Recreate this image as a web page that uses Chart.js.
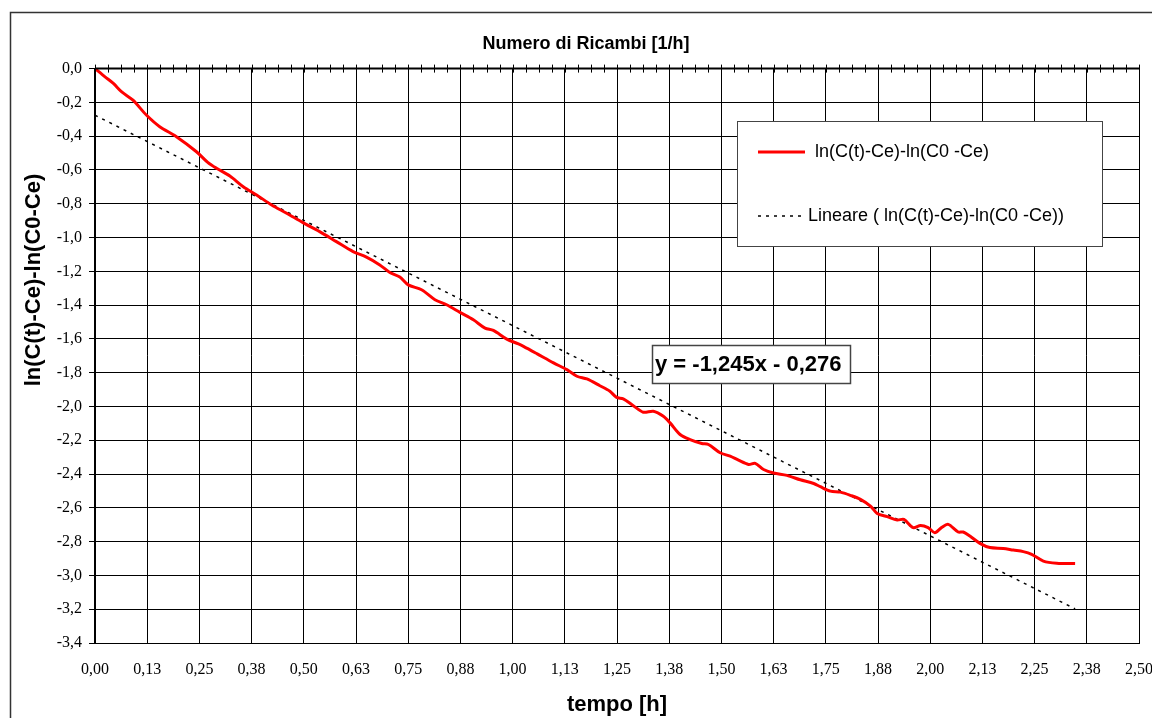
<!DOCTYPE html>
<html>
<head>
<meta charset="utf-8">
<script src="https://cdn.jsdelivr.net/npm/chart.js@4"></script>
<style>
  body { margin: 0; background: #fff; }
</style>
</head>
<body>
<canvas id="ricambi" width="1152" height="718"></canvas>
<script>
// tempo [h] and measured ln(C(t)-Ce)-ln(C0-Ce)
const timeH = [0, 0.024, 0.044, 0.064, 0.091, 0.123, 0.155, 0.195, 0.243, 0.27, 0.291, 0.323, 0.355, 0.387, 0.423, 0.459, 0.498, 0.538, 0.578, 0.618, 0.650, 0.682, 0.706, 0.730, 0.750, 0.782, 0.814, 0.842, 0.874, 0.906, 0.934, 0.954, 0.986, 1.014, 1.026, 1.058, 1.098, 1.130, 1.154, 1.178, 1.209, 1.233, 1.249, 1.265, 1.289, 1.313, 1.337, 1.361, 1.377, 1.401, 1.425, 1.453, 1.469, 1.497, 1.521, 1.541, 1.565, 1.581, 1.601, 1.625, 1.657, 1.689, 1.721, 1.737, 1.761, 1.785, 1.809, 1.833, 1.857, 1.873, 1.897, 1.921, 1.937, 1.959, 1.977, 1.995, 2.011, 2.027, 2.043, 2.067, 2.079, 2.095, 2.119, 2.143, 2.175, 2.199, 2.223, 2.243, 2.271, 2.303, 2.347];
const lnRatio = [0, -0.049, -0.088, -0.138, -0.187, -0.275, -0.344, -0.403, -0.492, -0.555, -0.59, -0.636, -0.699, -0.748, -0.807, -0.856, -0.912, -0.965, -1.024, -1.083, -1.116, -1.162, -1.207, -1.234, -1.280, -1.309, -1.368, -1.398, -1.443, -1.487, -1.536, -1.550, -1.601, -1.630, -1.644, -1.687, -1.742, -1.782, -1.821, -1.837, -1.877, -1.910, -1.946, -1.955, -1.995, -2.034, -2.028, -2.058, -2.097, -2.166, -2.196, -2.219, -2.225, -2.274, -2.294, -2.318, -2.343, -2.337, -2.373, -2.394, -2.408, -2.434, -2.456, -2.475, -2.501, -2.507, -2.526, -2.550, -2.590, -2.633, -2.652, -2.672, -2.668, -2.717, -2.704, -2.717, -2.747, -2.717, -2.698, -2.743, -2.743, -2.767, -2.810, -2.835, -2.840, -2.850, -2.859, -2.875, -2.915, -2.928, -2.930];

// linear trend end points
const trendT = [0, 2.347];
const trendLn = [-0.276, -3.198];

const xTickLabels = ['0,00', '0,13', '0,25', '0,38', '0,50', '0,63', '0,75', '0,88', '1,00', '1,13', '1,25', '1,38', '1,50', '1,63', '1,75', '1,88', '2,00', '2,13', '2,25', '2,38', '2,50'];
const yTickLabels = ['0,0', '-0,2', '-0,4', '-0,6', '-0,8', '-1,0', '-1,2', '-1,4', '-1,6', '-1,8', '-2,0', '-2,2', '-2,4', '-2,6', '-2,8', '-3,0', '-3,2', '-3,4'];

const seriesLabel = 'ln(C(t)-Ce)-ln(C0 -Ce)';
const trendLabel = 'Lineare ( ln(C(t)-Ce)-ln(C0 -Ce))';
const equationText = 'y = -1,245x - 0,276';

const sans = '"Liberation Sans", Arial, sans-serif';
const serif = '"Liberation Serif", "Times New Roman", serif';

// frame, minor ticks on the zero line, y title, legend and equation box
const extras = {
  id: 'extras',
  afterDraw(chart) {
    const ctx = chart.ctx;
    const xs = chart.scales.x, ys = chart.scales.y;
    const y0 = ys.getPixelForValue(0);
    ctx.save();

    // outer frame
    ctx.strokeStyle = '#333';
    ctx.lineWidth = 1.5;
    ctx.beginPath();
    ctx.moveTo(10.5, 718);
    ctx.lineTo(10.5, 12.5);
    ctx.lineTo(1152, 12.5);
    ctx.stroke();

    // axis on the zero line with crossing ticks
    ctx.strokeStyle = '#000';
    ctx.lineWidth = 2;
    ctx.beginPath();
    ctx.moveTo(xs.left, y0);
    ctx.lineTo(xs.right, y0);
    ctx.stroke();
    ctx.lineWidth = 1;
    ctx.beginPath();
    for (let k = 0; k <= 80; k++) {
      const px = Math.round(xs.getPixelForValue(k * 0.03125)) + 0.5;
      ctx.moveTo(px, y0 - 4);
      ctx.lineTo(px, y0 + 4);
    }
    ctx.stroke();

    // y axis title
    ctx.fillStyle = '#000';
    ctx.font = 'bold 22px ' + sans;
    ctx.textAlign = 'center';
    ctx.textBaseline = 'middle';
    ctx.translate(34, 280);
    ctx.rotate(-Math.PI / 2);
    ctx.fillText('ln(C(t)-Ce)-ln(C0-Ce)', 0, 0);
    ctx.setTransform(1, 0, 0, 1, 0, 0);

    // legend box
    const ds = chart.data.datasets;
    ctx.fillStyle = '#fff';
    ctx.fillRect(737.5, 121.5, 365, 125);
    ctx.strokeStyle = '#444';
    ctx.lineWidth = 1;
    ctx.strokeRect(737.5, 121.5, 365, 125);

    ctx.strokeStyle = ds[0].borderColor;
    ctx.lineWidth = ds[0].borderWidth;
    ctx.beginPath();
    ctx.moveTo(758, 152);
    ctx.lineTo(805, 152);
    ctx.stroke();

    ctx.strokeStyle = ds[1].borderColor;
    ctx.lineWidth = ds[1].borderWidth;
    ctx.setLineDash(ds[1].borderDash);
    ctx.beginPath();
    ctx.moveTo(758, 216);
    ctx.lineTo(805, 216);
    ctx.stroke();
    ctx.setLineDash([]);

    ctx.fillStyle = '#000';
    ctx.font = '18px ' + sans;
    ctx.textAlign = 'left';
    ctx.fillText(ds[0].label, 815, 152);
    ctx.fillText(ds[1].label, 808, 216);

    // equation box
    ctx.fillStyle = '#fff';
    ctx.fillRect(652.5, 345.5, 198, 38);
    ctx.strokeStyle = '#444';
    ctx.strokeRect(652.5, 345.5, 198, 38);
    ctx.fillStyle = '#000';
    ctx.font = 'bold 22px ' + sans;
    ctx.fillText(equationText, 655, 365);

    ctx.restore();
  }
};

new Chart(document.getElementById('ricambi'), {
  type: 'line',
  data: {
    datasets: [{
      label: seriesLabel,
      data: timeH.map((t, i) => ({ x: t, y: lnRatio[i] })),
      borderColor: '#ff0000',
      borderWidth: 3,
      pointRadius: 0,
      tension: 0.3,
      fill: false
    }, {
      label: trendLabel,
      data: trendT.map((t, i) => ({ x: t, y: trendLn[i] })),
      borderColor: '#000',
      borderWidth: 1.5,
      borderDash: [3, 5],
      pointRadius: 0,
      fill: false
    }]
  },
  options: {
    responsive: false,
    animation: false,
    layout: { padding: { left: 20, right: 0, top: 0, bottom: 0 } },
    plugins: {
      legend: { display: false },
      tooltip: { enabled: false },
      title: {
        display: true,
        text: 'Numero di Ricambi [1/h]',
        color: '#000',
        font: { family: sans, size: 18, weight: 'bold' },
        padding: { top: 33, bottom: 14 }
      }
    },
    scales: {
      x: {
        type: 'linear',
        min: 0,
        max: 2.5,
        afterFit: s => { s.height = 75; s.paddingRight = 13; s.paddingLeft = 0; },
        border: { color: '#000', width: 1 },
        grid: { color: '#000', lineWidth: 1, drawTicks: false },
        ticks: {
          stepSize: 0.125,
          autoSkip: false,
          maxRotation: 0,
          padding: 17,
          color: '#000',
          font: { family: serif, size: 16 },
          callback: (v, i) => xTickLabels[i]
        },
        title: {
          display: true,
          text: 'tempo [h]',
          color: '#000',
          font: { family: sans, size: 22, weight: 'bold' },
          padding: { top: 0, bottom: 0 }
        }
      },
      y: {
        min: -3.4,
        max: 0,
        afterFit: s => { s.width = 75; },
        border: { color: '#000', width: 2 },
        grid: { color: '#000', lineWidth: 1, tickLength: 6 },
        ticks: {
          stepSize: 0.2,
          padding: 7,
          color: '#000',
          font: { family: serif, size: 16 },
          callback: (v, i, ticks) => yTickLabels[ticks.length - 1 - i]
        }
      }
    }
  },
  plugins: [extras]
});
</script>
</body>
</html>
